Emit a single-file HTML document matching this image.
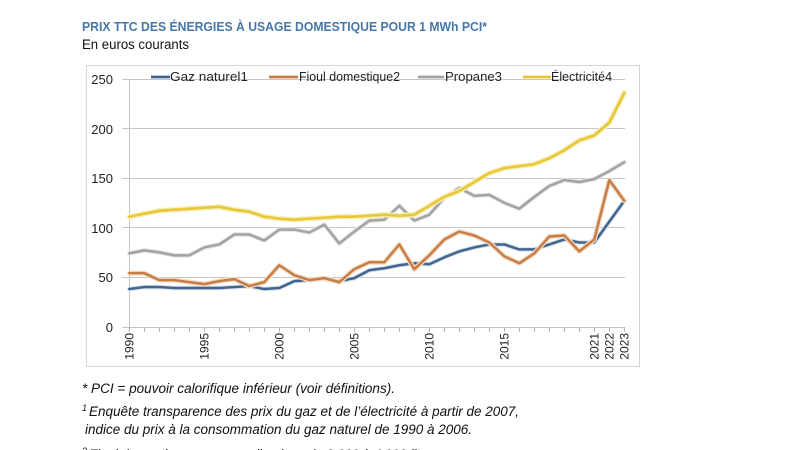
<!DOCTYPE html>
<html><head><meta charset="utf-8"><style>
html,body{margin:0;padding:0;background:#fff;}
svg{display:block;}
</style></head><body>
<svg width="800" height="450" viewBox="0 0 800 450" xmlns="http://www.w3.org/2000/svg" font-family="Liberation Sans, sans-serif">
<rect width="800" height="450" fill="#fff"/>
<text x="82" y="31" font-size="12.5" font-weight="bold" fill="#4677a8" textLength="405" lengthAdjust="spacingAndGlyphs">PRIX TTC DES ÉNERGIES À USAGE DOMESTIQUE POUR 1 MWh PCI*</text>
<text x="82" y="49" font-size="13.5" fill="#111" textLength="107" lengthAdjust="spacingAndGlyphs">En euros courants</text>
<rect x="86.5" y="65.5" width="553" height="301" fill="none" stroke="#d4d4d4" stroke-width="1"/>
<g stroke="#c6c6c6" stroke-width="1">
<line x1="122" y1="79.5" x2="625" y2="79.5"/>
<line x1="122" y1="128.5" x2="625" y2="128.5"/>
<line x1="122" y1="178.5" x2="625" y2="178.5"/>
<line x1="122" y1="227.5" x2="625" y2="227.5"/>
<line x1="122" y1="277.5" x2="625" y2="277.5"/>
<line x1="122" y1="327.5" x2="625" y2="327.5"/>
<line x1="129.5" y1="79" x2="129.5" y2="327"/>
</g>
<g stroke="#b5b5b5" stroke-width="1">
<path d="M129.5 327v5M144.5 327v5M159.5 327v5M174.5 327v5M189.5 327v5M204.5 327v5M219.5 327v5M234.5 327v5M249.5 327v5M264.5 327v5M279.5 327v5M294.5 327v5M309.5 327v5M324.5 327v5M339.5 327v5M354.5 327v5M369.5 327v5M384.5 327v5M399.5 327v5M414.5 327v5M429.5 327v5M444.5 327v5M459.5 327v5M474.5 327v5M489.5 327v5M504.5 327v5M519.5 327v5M534.5 327v5M549.5 327v5M564.5 327v5M579.5 327v5M594.5 327v5M609.5 327v5M624.5 327v5"/>
</g>
<g font-size="13" fill="#222" text-anchor="end">
<text x="113" y="84">250</text>
<text x="113" y="134">200</text>
<text x="113" y="183">150</text>
<text x="113" y="233">100</text>
<text x="113" y="282">50</text>
<text x="113" y="332">0</text>
</g>
<g font-size="12" fill="#222" text-anchor="end">
<text transform="translate(133.5,333) rotate(-90)">1990</text>
<text transform="translate(208.5,333) rotate(-90)">1995</text>
<text transform="translate(283.5,333) rotate(-90)">2000</text>
<text transform="translate(358.5,333) rotate(-90)">2005</text>
<text transform="translate(433.5,333) rotate(-90)">2010</text>
<text transform="translate(508.5,333) rotate(-90)">2015</text>
<text transform="translate(598.5,333) rotate(-90)">2021</text>
<text transform="translate(613.5,333) rotate(-90)">2022</text>
<text transform="translate(628.5,333) rotate(-90)">2023</text>
</g>
<g transform="translate(129.3,326.7) scale(15,-0.991)" fill="none" stroke-linejoin="round" stroke-linecap="round">
<polyline vector-effect="non-scaling-stroke" stroke="#d6e0ec" stroke-width="4.5" points="0,38 1,40 2,40 3,39 4,39 5,39 6,39 7,40 8,41 9,38 10,39 11,46 12,47 13,48 14,46 15,49 16,57 17,59 18,62 19,64 20,63 21,70 22,76 23,80 24,83 25,83 26,78 27,78 28,83 29,88 30,85 31,85 32,106 33,127"/>
<polyline vector-effect="non-scaling-stroke" stroke="#41658f" stroke-width="2.5" points="0,38 1,40 2,40 3,39 4,39 5,39 6,39 7,40 8,41 9,38 10,39 11,46 12,47 13,48 14,46 15,49 16,57 17,59 18,62 19,64 20,63 21,70 22,76 23,80 24,83 25,83 26,78 27,78 28,83 29,88 30,85 31,85 32,106 33,127"/>
<polyline vector-effect="non-scaling-stroke" stroke="#f6dcc4" stroke-width="5" points="0,54 1,54 2,47 3,47 4,45 5,43 6,46 7,48 8,41 9,45 10,62 11,52 12,47 13,49 14,45 15,58 16,65 17,65 18,83 19,58 20,72 21,88 22,96 23,92 24,85 25,71 26,64 27,74 28,91 29,92 30,76 31,88 32,148 33,127"/>
<polyline vector-effect="non-scaling-stroke" stroke="#c57e48" stroke-width="2.5" points="0,54 1,54 2,47 3,47 4,45 5,43 6,46 7,48 8,41 9,45 10,62 11,52 12,47 13,49 14,45 15,58 16,65 17,65 18,83 19,58 20,72 21,88 22,96 23,92 24,85 25,71 26,64 27,74 28,91 29,92 30,76 31,88 32,148 33,127"/>
<polyline vector-effect="non-scaling-stroke" stroke="#e4e4e4" stroke-width="4.5" points="0,74 1,77 2,75 3,72 4,72 5,80 6,83 7,93 8,93 9,87 10,98 11,98 12,95 13,103 14,84 15,96 16,107 17,108 18,122 19,107 20,113 21,130 22,140 23,132 24,133 25,125 26,119 27,131 28,142 29,148 30,146 31,149 32,157 33,166"/>
<polyline vector-effect="non-scaling-stroke" stroke="#a3a3a3" stroke-width="2.5" points="0,74 1,77 2,75 3,72 4,72 5,80 6,83 7,93 8,93 9,87 10,98 11,98 12,95 13,103 14,84 15,96 16,107 17,108 18,122 19,107 20,113 21,130 22,140 23,132 24,133 25,125 26,119 27,131 28,142 29,148 30,146 31,149 32,157 33,166"/>
<polyline vector-effect="non-scaling-stroke" stroke="#f8f0bc" stroke-width="5.5" points="0,111 1,114 2,117 3,118 4,119 5,120 6,121 7,118 8,116 9,111 10,109 11,108 12,109 13,110 14,111 15,111 16,112 17,113 18,112 19,113 20,122 21,131 22,137 23,146 24,155 25,160 26,162 27,164 28,170 29,178 30,188 31,193 32,206 33,236"/>
<polyline vector-effect="non-scaling-stroke" stroke="#e9c73a" stroke-width="2.7" points="0,111 1,114 2,117 3,118 4,119 5,120 6,121 7,118 8,116 9,111 10,109 11,108 12,109 13,110 14,111 15,111 16,112 17,113 18,112 19,113 20,122 21,131 22,137 23,146 24,155 25,160 26,162 27,164 28,170 29,178 30,188 31,193 32,206 33,236"/>
</g>
<g stroke-width="2.8" stroke-linecap="butt">
<line x1="151" y1="77" x2="170" y2="77" stroke="#41658f"/>
<line x1="269" y1="77" x2="298" y2="77" stroke="#c57e48"/>
<line x1="418" y1="77" x2="444" y2="77" stroke="#a3a3a3"/>
<line x1="523" y1="77" x2="551" y2="77" stroke="#e9c73a"/>
</g>
<g font-size="13" fill="#222">
<text x="170" y="81" textLength="78" lengthAdjust="spacingAndGlyphs">Gaz naturel1</text>
<text x="299" y="81" textLength="101" lengthAdjust="spacingAndGlyphs">Fioul domestique2</text>
<text x="445" y="81" textLength="57" lengthAdjust="spacingAndGlyphs">Propane3</text>
<text x="551" y="81" textLength="61" lengthAdjust="spacingAndGlyphs">Électricité4</text>
</g>
<g font-size="13.5" font-style="italic" fill="#111">
<text x="82" y="393" textLength="313" lengthAdjust="spacingAndGlyphs">* PCI = pouvoir calorifique inférieur (voir définitions).</text>
<text x="82" y="411" font-size="9">1</text>
<text x="89" y="416" textLength="430" lengthAdjust="spacingAndGlyphs">Enquête transparence des prix du gaz et de l’électricité à partir de 2007,</text>
<text x="85" y="434" textLength="387" lengthAdjust="spacingAndGlyphs">indice du prix à la consommation du gaz naturel de 1990 à 2006.</text>
<text x="82" y="454" font-size="9">2</text>
<text x="89" y="459" textLength="353" lengthAdjust="spacingAndGlyphs">Fioul domestique : pour une livraison de 2 000 à 4 999 litres.</text>
</g>
</svg>
</body></html>
